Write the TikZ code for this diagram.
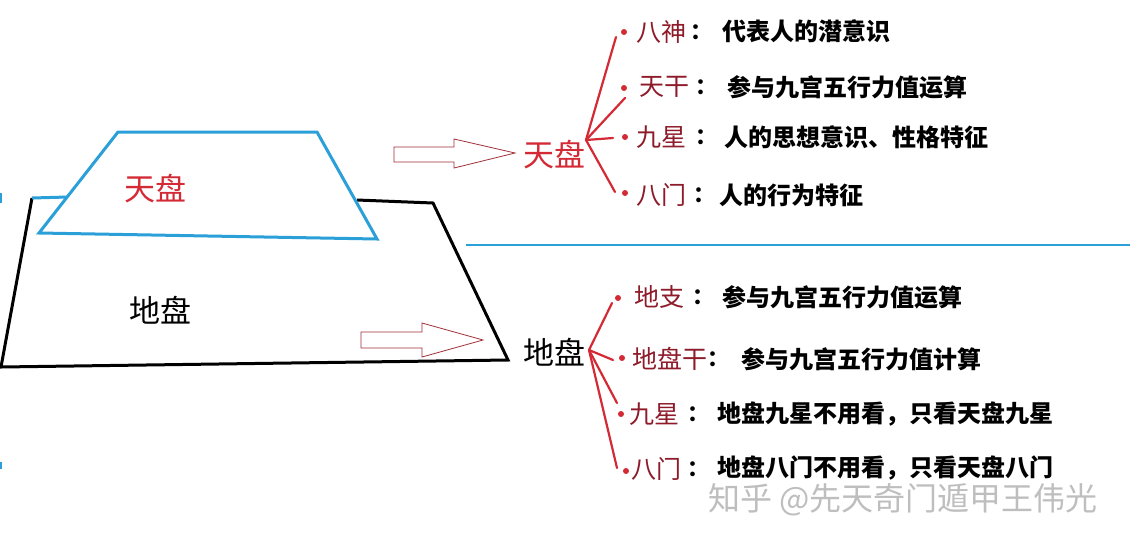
\documentclass[tikz,border=0pt]{standalone}
\usepackage{fontspec}
\newfontfamily\cjk{Noto Sans CJK SC}
\definecolor{lblred}{HTML}{8E1B2A}
\definecolor{brred}{HTML}{D42A35}
\definecolor{skyb}{HTML}{2BA0D8}
\definecolor{arrred}{HTML}{A0303A}
\definecolor{wmgray}{HTML}{BEBEBE}
\begin{document}
\begin{tikzpicture}[x=1pt,y=-1pt,
  txt/.style={inner sep=0pt, anchor=west},
  lab/.style={txt, text=lblred, font=\cjk\fontsize{25}{25}\selectfont},
  desc/.style={txt, text=black, font=\cjk\bfseries\fontsize{24}{24}\selectfont},
  colon/.style={txt, text=black, font=\cjk\bfseries\fontsize{22}{22}\selectfont},
  big/.style={inner sep=0pt, font=\cjk\fontsize{31}{31}\selectfont},
  bullet/.style={circle, fill=brred, inner sep=0pt, minimum size=6pt},
  branch/.style={draw=brred, line width=2.2pt, line cap=round},
  hollow/.style={draw=arrred, line width=0.8pt, fill=white},
  blackedge/.style={draw=black, line width=3pt, line join=miter},
  blueedge/.style={draw=skyb, line width=3pt, line join=miter}]
\useasboundingbox (0,0) rectangle (1147,544);
\fill[white] (0,0) rectangle (1147,544);

% lower (black) board
\draw[blackedge] (357,200) -- (433,203) -- (508,360) -- (1,367) -- (32,198);
\draw[blueedge] (32,198) -- (68,197);
% upper (blue) board
\draw[blueedge, fill=white] (118,132) -- (317,132) -- (377,239) -- (39,233) -- cycle;
% separator line
\draw[draw=skyb, line width=2.5pt] (466,245) -- (1130,245);
% small marks at the left edge
\draw[draw=skyb, line width=2pt] (1,193) -- (1,203);
\draw[draw=skyb, line width=1.5pt] (1,462) -- (1,469);

\node[big, text=brred] (tp) at (155,189) {天盘};
\node[big, text=black] (dp) at (160,310) {地盘};

% hollow arrows
\draw[hollow] (394,147) -- (454,147) -- (454,139) -- (515,153) -- (454,168) -- (454,162) -- (394,162) -- cycle;
\draw[hollow] (361,332) -- (422,332) -- (422,323) -- (483,340) -- (422,357) -- (422,348) -- (361,348) -- cycle;

% hubs
\node[big, text=brred] (tp2) at (554,155) {天盘};
\node[big, text=black] (dp2) at (554,352) {地盘};
\coordinate (h1) at (586,140);
\coordinate (h2) at (589,350);

% upper branches
\coordinate (e1) at (616,37);
\coordinate (e2) at (625,98);
\coordinate (e3) at (613,138);
\coordinate (e4) at (615,192);
\draw[branch] (h1) -- (e1);
\draw[branch] (h1) -- (e2);
\draw[branch] (h1) -- (e3);
\draw[branch] (h1) -- (e4);
\node[bullet] (b1) at (624,32) {};
\node[bullet] (b2) at (624,88) {};
\node[bullet] (b3) at (625,137) {};
\node[bullet] (b4) at (625,193) {};

\node[lab] (l1) at (636,32) {八神};
\node[colon] (c1) at (690,32) {：};
\node[desc] (d1) at (722,31) {代表人的潜意识};
\node[lab] (l2) at (639,87) {天干};
\node[colon] (c2) at (695,87) {：};
\node[desc] (d2) at (727,87) {参与九宫五行力值运算};
\node[lab] (l3) at (636,137) {九星};
\node[colon] (c3) at (695,137) {：};
\node[desc] (d3) at (724,137) {人的思想意识、性格特征};
\node[lab] (l4) at (636,195) {八门};
\node[colon] (c4) at (693,195) {：};
\node[desc] (d4) at (719,195) {人的行为特征};

% lower branches
\coordinate (f1) at (612,303);
\coordinate (f2) at (613,360);
\coordinate (f3) at (617,403);
\coordinate (f4) at (617,468);
\draw[branch] (h2) -- (f1);
\draw[branch] (h2) -- (f2);
\draw[branch] (h2) -- (f3);
\draw[branch] (h2) -- (f4);
\node[bullet] (g1) at (618,298) {};
\node[bullet] (g2) at (622,358) {};
\node[bullet] (g3) at (621,414) {};
\node[bullet] (g4) at (626,471) {};

\node[lab] (m1) at (634,297) {地支};
\node[colon] (k1) at (692,297) {：};
\node[desc] (n1) at (722,297) {参与九宫五行力值运算};
\node[lab] (m2) at (632,359) {地盘干};
\node[colon] (k2) at (707,359) {：};
\node[desc] (n2) at (741,359) {参与九宫五行力值计算};
\node[lab] (m3) at (629,414) {九星};
\node[colon] (k3) at (687,414) {：};
\node[desc] (n3) at (717,414) {地盘九星不用看，只看天盘九星};
\node[lab] (m4) at (631,469) {八门};
\node[colon] (k4) at (687,469) {：};
\node[desc] (n4) at (717,468) {地盘八门不用看，只看天盘八门};

% watermark
\node[txt, text=wmgray, font=\cjk\fontsize{32}{32}\selectfont] (wm) at (708,500) {知乎 @先天奇门遁甲王伟光};
\end{tikzpicture}
\end{document}
